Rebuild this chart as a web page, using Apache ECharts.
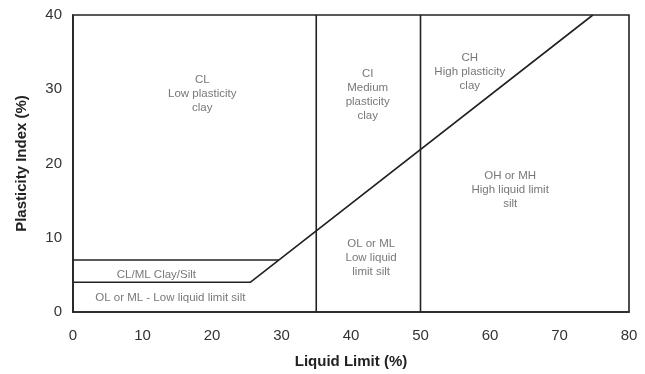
<!DOCTYPE html>
<html><head><meta charset="utf-8">
<script src="https://cdn.jsdelivr.net/npm/echarts@6/dist/echarts.min.js"></script>
<style>html,body{margin:0;padding:0;background:#fff}#c{width:645px;height:374px}</style>
</head><body><div id="c"></div>
<script>
// Boundary lines (Liquid Limit %, Plasticity Index %)
const aLineLower = [[0, 4], [25.5, 4], [74.8, 40]];
const clmlUpper = [[0, 7], [29.6, 7]];
const vLine35 = [[35, 0], [35, 40]];
const vLine50 = [[50, 0], [50, 40]];
// Region labels: [LL, PI, text]
const regionLabels = [
  [18.6, 29.4, 'CL\nLow plasticity\nclay'],
  [42.4, 29.2, 'CI\nMedium\nplasticity\nclay'],
  [57.1, 32.3, 'CH\nHigh plasticity\nclay'],
  [62.9, 16.4, 'OH or MH\nHigh liquid limit\nsilt'],
  [42.9, 7.25, 'OL or ML\nLow liquid\nlimit silt'],
  [12.0, 4.95, 'CL/ML Clay/Silt'],
  [14.0, 1.85, 'OL or ML - Low liquid limit silt']
];
const xTicks = [0, 10, 20, 30, 40, 50, 60, 70, 80];
const yTicks = [0, 10, 20, 30, 40];

const chart = echarts.init(document.getElementById('c'));
const lineStyle = {color: '#222', width: 1.6};
function lineSeries(d) {
  return {type: 'line', data: d, symbol: 'none', lineStyle: lineStyle, silent: true, animation: false};
}
chart.setOption({
  animation: false,
  backgroundColor: '#fff',
  grid: {left: 73, right: 16, top: 15, bottom: 61, show: true, borderColor: '#222', borderWidth: 1.6},
  xAxis: {
    type: 'value', min: xTicks[0], max: xTicks[xTicks.length - 1], interval: 10,
    name: 'Liquid Limit (%)', nameLocation: 'middle', nameGap: 42,
    nameTextStyle: {fontFamily: 'Liberation Sans, Arial', fontWeight: 'bold', fontSize: 15, color: '#222'},
    axisLine: {show: true, lineStyle: {color: '#222', width: 1.6}},
    axisTick: {show: false}, splitLine: {show: false},
    axisLabel: {fontFamily: 'Liberation Sans, Arial', fontSize: 15, color: '#333', margin: 16}
  },
  yAxis: {
    type: 'value', min: yTicks[0], max: yTicks[yTicks.length - 1], interval: 10,
    name: 'Plasticity Index (%)', nameLocation: 'middle', nameGap: 44,
    nameTextStyle: {fontFamily: 'Liberation Sans, Arial', fontWeight: 'bold', fontSize: 15, color: '#222'},
    axisLine: {show: true, lineStyle: {color: '#222', width: 1.6}},
    axisTick: {show: false}, splitLine: {show: false},
    axisLabel: {fontFamily: 'Liberation Sans, Arial', fontSize: 15, color: '#333', margin: 11}
  },
  series: [
    lineSeries(aLineLower),
    lineSeries(clmlUpper),
    lineSeries(vLine35),
    lineSeries(vLine50),
    {
      type: 'scatter', symbolSize: 0, silent: true,
      data: regionLabels.map(r => ({value: [r[0], r[1]], name: r[2]})),
      label: {
        show: true, position: 'inside', formatter: p => p.name,
        fontFamily: 'Liberation Sans, Arial', fontSize: 11.5, lineHeight: 14, color: '#555', align: 'center'
      }
    }
  ]
});
</script></body></html>
